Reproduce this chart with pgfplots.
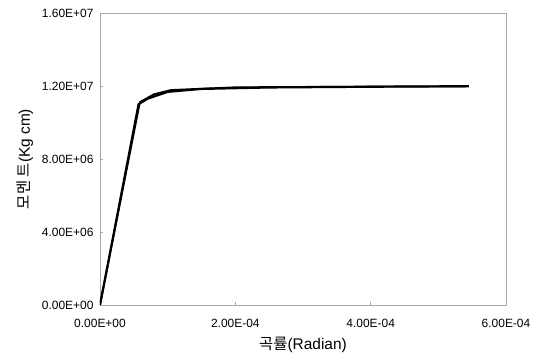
\documentclass[border=0pt]{standalone}
\usepackage{pgfplots}
\pgfplotsset{compat=1.18}
\usepackage{fontspec}
\setmainfont{Liberation Sans}
\newfontfamily\cjk{Noto Sans CJK KR}
\begin{document}
\begin{tikzpicture}
\begin{axis}[name=ax,
  scale only axis, width=406bp, height=292bp,
  xmin=0, xmax=6e-4, ymin=0, ymax=1.6e7,
  xtick={0,2e-4,4e-4,6e-4},
  xticklabels={0.00E+00,2.00E-04,4.00E-04,6.00E-04},
  ytick={0,4e6,8e6,1.2e7,1.6e7},
  yticklabels={0.00E+00,4.00E+06,8.00E+06,1.20E+07,1.60E+07},
  scaled ticks=false,
  axis line style={gray!70, line width=0.6pt},
  tick style={gray!70, line width=0.5pt},
  major tick length=3bp,
  tick align=inside,
  xtick pos=bottom, ytick pos=left,
  ticklabel style={font=\fontsize{12}{14}\selectfont, text=black},
  xticklabel style={yshift=-11bp},
  yticklabel style={xshift=-3bp},
  xlabel={{\cjk 곡률}(Radian)},
  ylabel={{\cjk 모멘 트}(Kg cm)},
  label style={font=\fontsize{15.5}{18}\selectfont, text=black},
  xlabel style={yshift=-2bp},
  ylabel style={yshift=2bp},
]
\addplot[black, line width=2.2pt] coordinates {
(0,0) (5.7e-5,1.100e7) (7e-5,1.130e7) (1.0e-4,1.168e7) (1.5e-4,1.184e7) (2.5e-4,1.192e7) (4e-4,1.196e7) (5.45e-4,1.199e7)};
\addplot[black, line width=1.8pt] coordinates {
(0,0) (5.9e-5,1.112e7) (8e-5,1.155e7) (1.05e-4,1.178e7) (2e-4,1.193e7) (3.5e-4,1.196e7) (5.4e-4,1.198e7)};
\end{axis}
\path (ax.south west) ++(-100bp,-56bp) coordinate (bl);
\path (ax.north east) ++(34bp,13bp) coordinate (tr);
\end{tikzpicture}
\end{document}
